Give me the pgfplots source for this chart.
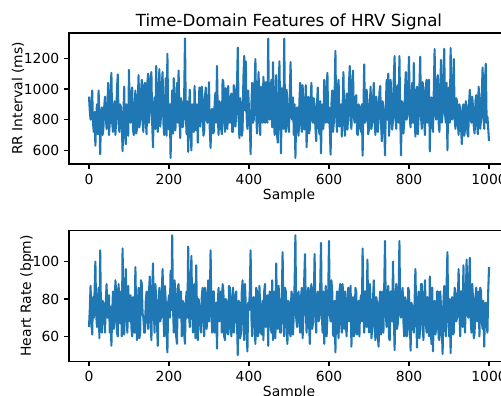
\documentclass[border=0pt]{standalone}
\usepackage{fontspec}
\setmainfont{DejaVu Sans}
\usepackage{pgfplots}
\usepackage{pgfplotstable}
\pgfplotsset{compat=1.18}
\definecolor{mplblue}{HTML}{1F77B4}

\pgfplotstableread[row sep=\\]{
rr\\
950\\860\\800\\900\\990\\780\\720\\850\\630\\820\\900\\705\\990\\830\\575\\800\\880\\700\\740\\880\\
950\\820\\740\\880\\1040\\700\\780\\960\\1105\\780\\720\\880\\920\\700\\800\\1005\\1095\\780\\720\\900\\
880\\755\\595\\820\\1015\\700\\640\\900\\850\\695\\1125\\820\\780\\970\\1010\\735\\700\\880\\990\\710\\
740\\920\\1090\\750\\800\\975\\1060\\780\\720\\1025\\1040\\800\\705\\1045\\1100\\780\\850\\1060\\1110\\780\\
620\\880\\945\\740\\1150\\840\\720\\995\\1130\\755\\820\\1025\\1110\\780\\700\\900\\1070\\695\\1230\\820\\
735\\900\\550\\840\\990\\710\\1070\\800\\730\\920\\1040\\780\\1120\\820\\680\\940\\900\\750\\780\\960\\
1330\\840\\705\\920\\590\\860\\995\\740\\600\\900\\880\\720\\1020\\800\\730\\900\\650\\860\\1010\\755\\
800\\1015\\920\\695\\720\\950\\1010\\800\\780\\900\\1045\\735\\615\\860\\870\\710\\720\\900\\975\\780\\
1150\\820\\700\\920\\900\\750\\705\\1060\\1045\\780\\720\\1005\\860\\740\\1020\\820\\780\\945\\970\\720\\
720\\1025\\995\\755\\830\\1025\\1270\\820\\680\\940\\890\\695\\735\\1070\\1215\\860\\1180\\820\\740\\990\\
860\\780\\575\\900\\1040\\780\\800\\1010\\1195\\840\\710\\960\\1110\\800\\700\\1015\\920\\780\\1080\\820\\
780\\1045\\995\\780\\1328\\880\\800\\975\\1060\\750\\1175\\860\\700\\950\\1090\\705\\650\\920\\1180\\840\\
580\\1005\\900\\740\\1328\\860\\720\\995\\880\\755\\720\\970\\1175\\820\\800\\945\\700\\900\\550\\820\\
880\\740\\695\\920\\1040\\780\\720\\1025\\900\\735\\800\\1025\\620\\860\\950\\710\\740\\920\\1040\\800\\
780\\940\\880\\750\\660\\900\\1010\\780\\705\\920\\580\\840\\900\\740\\1060\\820\\780\\995\\1105\\780\\
880\\740\\572\\900\\990\\720\\780\\950\\1248\\820\\720\\1005\\1060\\755\\800\\900\\690\\880\\1110\\800\\
695\\880\\970\\735\\820\\1040\\1150\\800\\740\\1025\\1120\\820\\780\\940\\960\\710\\700\\900\\880\\750\\
720\\900\\565\\860\\1160\\780\\800\\995\\920\\705\\740\\900\\1015\\740\\780\\920\\1040\\800\\700\\950\\
900\\720\\820\\975\\1020\\780\\660\\920\\880\\755\\567\\880\\1060\\800\\1100\\695\\780\\1060\\945\\735\\
800\\1070\\1215\\820\\740\\1005\\1025\\780\\1215\\840\\567\\920\\900\\710\\780\\990\\1110\\800\\840\\1040\\
1210\\800\\750\\960\\1040\\780\\1170\\820\\690\\970\\1015\\705\\820\\1010\\1210\\820\\740\\1045\\975\\780\\
700\\1025\\1060\\780\\880\\1060\\593\\900\\945\\780\\720\\995\\1260\\840\\800\\1025\\1090\\780\\720\\990\\
1190\\780\\840\\1070\\1262\\840\\780\\1040\\600\\900\\1010\\780\\1267\\860\\800\\1045\\1195\\820\\740\\940\\
920\\780\\700\\900\\860\\755\\640\\880\\900\\695\\735\\920\\880\\710\\690\\900\\995\\800\\780\\950\\
880\\750\\710\\920\\960\\780\\705\\1015\\920\\740\\800\\975\\1140\\820\\740\\1060\\1165\\780\\820\\740\\660\\
}\rrdata

\pgfplotstableread[row sep=\\]{
hr\\
65\\74\\87\\68\\61\\81\\70\\84\\100\\72\\65\\78\\86\\59\\106\\72\\62\\79\\78\\70\\
62\\78\\88\\70\\70\\82\\62\\76\\55\\72\\84\\64\\68\\90\\84\\62\\60\\88\\76\\67\\
84\\60\\107\\74\\61\\80\\96\\70\\62\\87\\75\\68\\82\\65\\60\\81\\78\\62\\97\\72\\
58\\76\\86\\59\\62\\90\\88\\72\\70\\62\\62\\79\\84\\70\\64\\84\\92\\70\\58\\84\\
99\\74\\62\\88\\80\\67\\55\\78\\86\\68\\70\\84\\96\\72\\60\\87\\78\\62\\51.5\\78\\
82\\70\\95\\74\\114\\76\\62\\90\\81\\60\\56\\86\\88\\70\\70\\84\\60\\79\\78\\61\\
56\\78\\84\\70\\108\\72\\65\\84\\103\\74\\62\\87\\88\\59\\98\\72\\58\\80\\76\\68\\
62\\81\\86\\70\\60\\86\\82\\64\\70\\90\\68\\79\\106\\72\\62\\84\\84\\62\\67\\78\\
53.5\\78\\86\\68\\72\\84\\62\\88\\84\\60\\58\\80\\78\\62\\61\\87\\86\\65\\60\\81\\
86\\62\\68\\82\\84\\68\\50\\79\\78\\59\\62\\84\\90\\68\\58\\88\\76\\64\\52\\78\\
74\\84\\106\\70\\60\\80\\81\\67\\56\\86\\84\\60\\62\\87\\76\\62\\61\\79\\58\\84\\
88\\65\\70\\82\\55\\80\\84\\68\\62\\90\\58\\78\\84\\59\\99\\72\\64\\87\\78\\62\\
62\\81\\105\\72\\60\\86\\84\\67\\56\\79\\78\\62\\60\\84\\82\\61\\72\\88\\114\\70\\
65\\80\\84\\68\\62\\81\\86\\59\\70\\90\\104\\74\\62\\79\\86\\68\\56\\84\\88\\64\\
67\\80\\104\\72\\62\\81\\84\\68\\70\\86\\110\\72\\62\\84\\56\\78\\87\\60\\70\\82\\
111\\72\\68\\90\\84\\61\\60\\79\\51.5\\76\\84\\65\\59\\84\\88\\68\\62\\88\\76\\64\\
84\\67\\60\\80\\86\\68\\70\\87\\54.5\\78\\81\\60\\62\\86\\84\\61\\70\\79\\60\\78\\
82\\68\\107\\74\\62\\84\\84\\65\\101\\72\\62\\88\\78\\59\\64\\80\\90\\67\\58\\81\\
78\\60\\54.5\\78\\84\\61\\70\\84\\62\\86\\111\\72\\65\\79\\87\\59\\58\\84\\84\\68\\
100\\72\\52.7\\78\\88\\64\\67\\80\\111\\72\\70\\82\\86\\68\\60\\81\\78\\60\\61\\86\\
84\\68\\52.4\\78\\76\\65\\62\\79\\96\\72\\54\\78\\84\\59\\64\\88\\88\\68\\58\\80\\
90\\67\\62\\81\\78\\60\\92\\70\\56\\86\\52\\76\\79\\61\\65\\84\\84\\59\\58\\84\\
76\\64\\50.6\\78\\87\\67\\60\\88\\105\\72\\60\\80\\51\\76\\81\\61\\62\\86\\84\\68\\
70\\79\\96\\72\\60\\84\\84\\65\\98\\72\\62\\82\\101\\72\\70\\90\\102\\70\\62\\88\\
80\\59\\62\\81\\86\\68\\70\\84\\60\\86\\84\\68\\64\\79\\54.5\\76\\78\\67\\62\\84\\97\\
}\hrdata

\pgfplotsset{
  hrv/.style={
    scale only axis,
    width=316.8pt, height=94.32pt,
    anchor=south west,
    xmin=-49.95, xmax=1049.95,
    xtick={0,200,400,600,800,1000},
    tick align=outside, tick pos=left,
    major tick length=3.5pt,
    every tick/.style={black, line width=0.8pt},
    axis line style={line width=0.8pt},
    tick label style={font=\fontsize{10}{12}\selectfont},
    label style={font=\fontsize{10}{12}\selectfont},
    title style={font=\fontsize{12}{14}\selectfont, yshift=-7pt},
    /pgf/number format/assume math mode=true,
    /pgf/number format/1000 sep={},
    xlabel={Sample},
    every axis x label/.style={at={(rel axis cs:0.5,0)}, anchor=base, yshift=-25.5pt},
    clip=true,
  }
}

\begin{document}
\begin{tikzpicture}
\path[use as bounding box] (0,0) rectangle (360.72pt,285.12pt);
\begin{axis}[hrv,
  at={(49.68pt,167.04pt)},
  ymin=511, ymax=1365,
  ytick={600,800,1000,1200},
  ylabel={RR Interval (ms)},
  every axis y label/.style={at={(rel axis cs:0,0.5)}, xshift=-36.7pt, rotate=90, anchor=center},
  title={Time-Domain Features of HRV Signal}]
\addplot[mplblue, line width=1.5pt, line join=round] table[x expr=\coordindex*2, y=rr] {\rrdata};
\end{axis}
\begin{axis}[hrv,
  at={(49.68pt,24.98pt)},
  ymin=46.7, ymax=116.7,
  ytick={60,80,100},
  ylabel={Heart Rate (bpm)},
  every axis y label/.style={at={(rel axis cs:0,0.5)}, xshift=-30.2pt, rotate=90, anchor=center}]
\addplot[mplblue, line width=1.5pt, line join=round] table[x expr=\coordindex*2, y=hr] {\hrdata};
\end{axis}
\end{tikzpicture}
\end{document}
